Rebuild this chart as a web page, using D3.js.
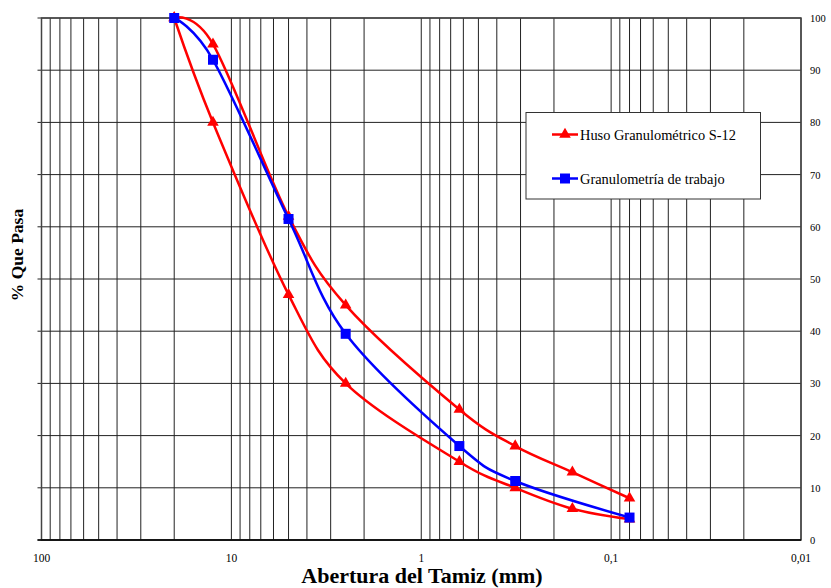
<!DOCTYPE html>
<html>
<head>
<meta charset="utf-8">
<script src="https://cdn.jsdelivr.net/npm/d3@7"></script>
<style>
  body { margin: 0; background: #fff; }
  text { font-family: "Liberation Serif", "Times New Roman", serif; }
</style>
</head>
<body>
<svg id="chart" width="831" height="588"></svg>
<script>
// sieve openings (mm)
const sieves = [20, 12.5, 5, 2.5, 0.63, 0.32, 0.16, 0.08];
// huso S-12 limits (% passing)
const husoUpper = [100, 95, 62, 45, 25, 18, 13, 8];
const husoLower = [100, 80, 47, 30, 15, 10, 6, 4];
// working gradation
const trabajoSieves = [20, 12.5, 5, 2.5, 0.63, 0.32, 0.08];
const trabajo = [100, 92, 61.5, 39.5, 18, 11.3, 4.3];

const xTicks = [100, 10, 1, 0.1, 0.01];
const yTicks = [0, 10, 20, 30, 40, 50, 60, 70, 80, 90, 100];

const svg = d3.select("#chart");
const plotL = 41.5, plotR = 801, plotT = 18, plotB = 540;

const x = d3.scaleLog().domain([100, 0.01]).range([plotL, plotR]);
const y = d3.scaleLinear().domain([0, 100]).range([plotB, plotT]);

// minor + major vertical grid lines
const vGrid = [];
for (let e = -2; e <= 1; e++) {
  for (let k = 1; k <= 9; k++) vGrid.push(k * Math.pow(10, e));
}
vGrid.push(100);

const grid = svg.append("g").attr("class", "grid");

grid
  .selectAll(".vline")
  .data(vGrid)
  .join("line")
  .attr("class", "vline")
  .attr("x1", (d) => x(d))
  .attr("x2", (d) => x(d))
  .attr("y1", plotT)
  .attr("y2", plotB)
  .attr("stroke", "#222")
  .attr("stroke-width", 1);

grid
  .selectAll(".hline")
  .data(yTicks)
  .join("line")
  .attr("class", "hline")
  .attr("x1", plotL - 4)
  .attr("x2", plotR)
  .attr("y1", (d) => y(d))
  .attr("y2", (d) => y(d))
  .attr("stroke", "#222")
  .attr("stroke-width", 1);

// frame
svg
  .append("rect")
  .attr("x", plotL)
  .attr("y", plotT)
  .attr("width", plotR - plotL)
  .attr("height", plotB - plotT)
  .attr("fill", "none")
  .attr("stroke", "#444")
  .attr("stroke-width", 1.5);

svg
  .append("line")
  .attr("x1", plotL - 4)
  .attr("x2", plotR)
  .attr("y1", plotB)
  .attr("y2", plotB)
  .attr("stroke", "#000")
  .attr("stroke-width", 1.5);

// axis labels
const fmt = (d) => String(d).replace(".", ",");

svg
  .append("g")
  .selectAll("text")
  .data(xTicks)
  .join("text")
  .attr("x", (d) => x(d))
  .attr("y", 562)
  .attr("text-anchor", "middle")
  .attr("font-size", 11.5)
  .text(fmt);

svg
  .append("g")
  .selectAll("text")
  .data(yTicks)
  .join("text")
  .attr("x", 810)
  .attr("y", (d) => y(d) + 4)
  .attr("font-size", 10.5)
  .text((d) => d);

svg
  .append("text")
  .attr("x", 422)
  .attr("y", 583)
  .attr("text-anchor", "middle")
  .attr("font-size", 22)
  .attr("font-weight", "bold")
  .text("Abertura del Tamiz (mm)");

svg
  .append("text")
  .attr("transform", "translate(23, 255) rotate(-90)")
  .attr("text-anchor", "middle")
  .attr("font-size", 17.5)
  .attr("font-weight", "bold")
  .text("% Que Pasa");

// series
const line = d3
  .line()
  .x((d) => x(d[0]))
  .y((d) => y(d[1]))
  .curve(d3.curveCatmullRom.alpha(0));

const tri = d3.symbol().type(d3.symbolTriangle).size(58);
const sq = d3.symbol().type(d3.symbolSquare).size(100);

const series = [
  { pts: d3.zip(sieves, husoUpper), color: "#ff0000", sym: tri },
  { pts: d3.zip(sieves, husoLower), color: "#ff0000", sym: tri },
  { pts: d3.zip(trabajoSieves, trabajo), color: "#0000ff", sym: sq },
];

series.forEach((s) => {
  const g = svg.append("g");
  g.append("path")
    .attr("d", line(s.pts))
    .attr("fill", "none")
    .attr("stroke", s.color)
    .attr("stroke-width", 2.5);
  g.selectAll(".mark")
    .data(s.pts)
    .join("path")
    .attr("class", "mark")
    .attr("transform", (d) => `translate(${x(d[0])},${y(d[1])})`)
    .attr("d", s.sym)
    .attr("fill", s.color);
});

// legend
const legend = svg.append("g");
legend
  .append("rect")
  .attr("x", 526)
  .attr("y", 112.5)
  .attr("width", 234.5)
  .attr("height", 86.5)
  .attr("fill", "#fff")
  .attr("stroke", "#333")
  .attr("stroke-width", 1);

const legItems = [
  { label: "Huso Granulométrico S-12", color: "#ff0000", sym: tri, ly: 134.5 },
  { label: "Granulometría de trabajo", color: "#0000ff", sym: sq, ly: 178.5 },
];

legItems.forEach((d) => {
  legend
    .append("line")
    .attr("x1", 552)
    .attr("x2", 578)
    .attr("y1", d.ly)
    .attr("y2", d.ly)
    .attr("stroke", d.color)
    .attr("stroke-width", 2.5);
  legend
    .append("path")
    .attr("transform", `translate(565,${d.ly})`)
    .attr("d", d.sym)
    .attr("fill", d.color);
  legend
    .append("text")
    .attr("x", 580)
    .attr("y", d.ly + 5)
    .attr("font-size", 14.4)
    .text(d.label);
});
</script>
</body>
</html>
